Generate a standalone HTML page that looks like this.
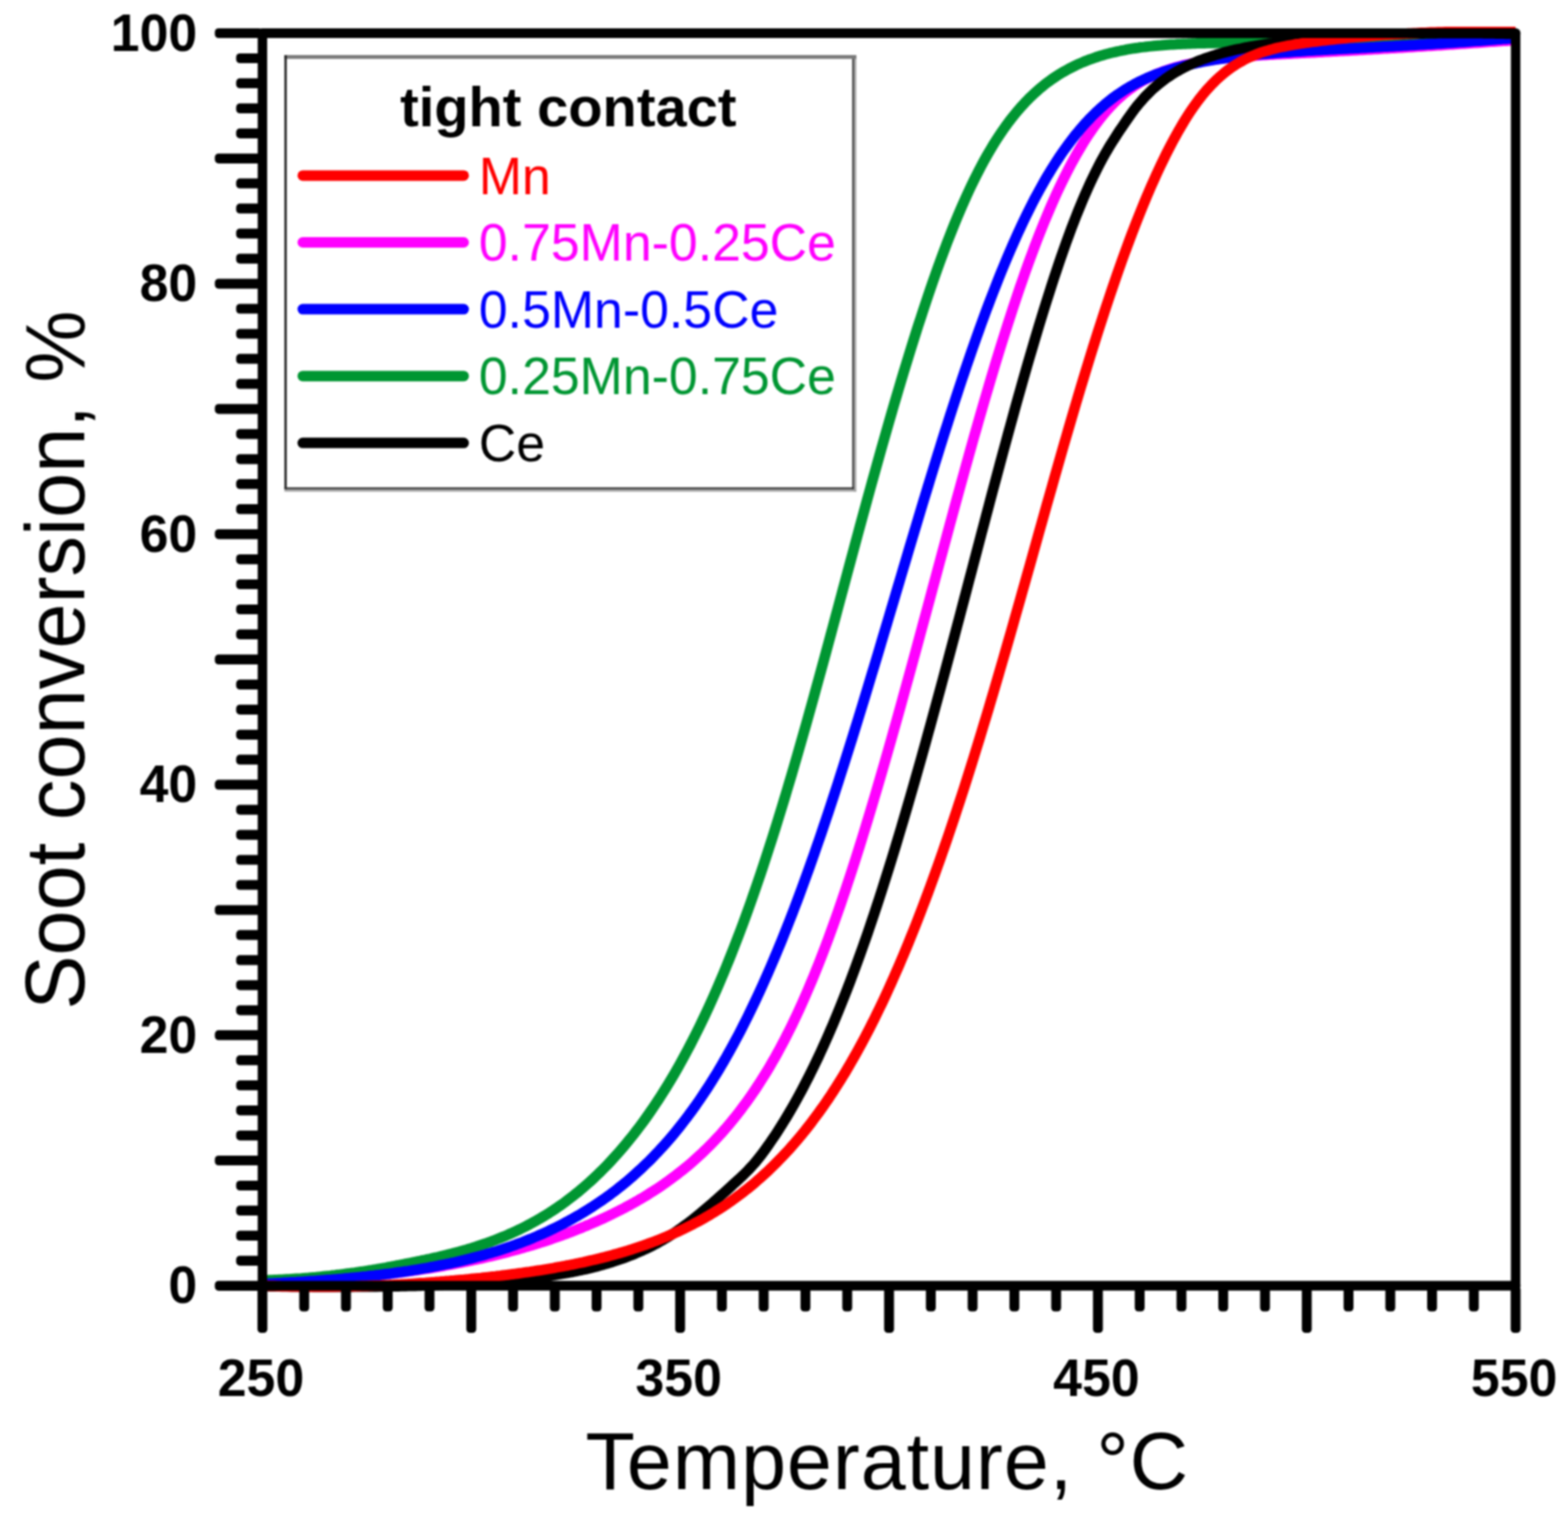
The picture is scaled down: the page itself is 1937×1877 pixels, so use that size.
<!DOCTYPE html>
<html lang="en"><head><meta charset="utf-8"><title>Soot conversion vs temperature</title>
<style>
html,body{margin:0;padding:0;background:#fff;}
body{width:1937px;height:1877px;overflow:hidden;}
svg{display:block;}
text{font-family:"Liberation Sans",Arial,Helvetica,sans-serif;}
.tl{font-weight:bold;font-size:65px;fill:#000;}
.lg{font-size:64px;}
.at{font-size:100px;fill:#000;}
</style></head><body>
<svg width="1937" height="1877" viewBox="0 0 1937 1877">
<rect x="0" y="0" width="1937" height="1877" fill="#ffffff"/>
<filter id="soft" x="0" y="0" width="1937" height="1877" filterUnits="userSpaceOnUse" color-interpolation-filters="sRGB"><feGaussianBlur stdDeviation="0.8"/></filter>
<g filter="url(#soft)">
<rect x="0" y="0" width="1937" height="1877" fill="#ffffff"/>

<clipPath id="pc"><rect x="324.2" y="33.0" width="1548.1" height="1563.8"/></clipPath>
<g clip-path="url(#pc)" fill="none" stroke-linejoin="round" stroke-linecap="butt">
<path d="M324.2,1587.3 L327.2,1587.2 L330.2,1587.0 L333.2,1586.8 L336.2,1586.7 L339.2,1586.5 L342.2,1586.3 L345.2,1586.1 L348.2,1585.9 L351.2,1585.7 L354.2,1585.6 L357.2,1585.4 L360.2,1585.2 L363.2,1585.0 L366.2,1584.8 L369.2,1584.6 L372.2,1584.4 L375.2,1584.1 L378.2,1583.9 L381.2,1583.7 L384.2,1583.5 L387.2,1583.3 L390.2,1583.0 L393.2,1582.8 L396.2,1582.6 L399.2,1582.3 L402.2,1582.1 L405.2,1581.8 L408.2,1581.6 L411.2,1581.3 L414.2,1581.1 L417.2,1580.8 L420.2,1580.5 L423.2,1580.3 L426.2,1580.0 L429.2,1579.7 L432.2,1579.4 L435.2,1579.1 L438.2,1578.8 L441.2,1578.5 L444.2,1578.2 L447.2,1577.9 L450.2,1577.6 L453.2,1577.3 L456.2,1577.0 L459.2,1576.6 L462.2,1576.3 L465.2,1576.0 L468.2,1575.6 L471.2,1575.3 L474.2,1574.9 L477.2,1574.5 L480.2,1574.2 L483.2,1573.8 L486.2,1573.4 L489.2,1573.0 L492.2,1572.6 L495.2,1572.2 L498.2,1571.8 L501.2,1571.4 L504.2,1571.0 L507.2,1570.6 L510.2,1570.2 L513.2,1569.7 L516.2,1569.3 L519.2,1568.8 L522.2,1568.4 L525.2,1567.9 L528.2,1567.5 L531.2,1567.0 L534.2,1566.5 L537.2,1566.0 L540.2,1565.5 L543.2,1565.0 L546.2,1564.5 L549.2,1564.0 L552.2,1563.4 L555.2,1562.9 L558.2,1562.3 L561.2,1561.8 L564.2,1561.2 L567.2,1560.6 L570.2,1560.1 L573.2,1559.5 L576.2,1558.9 L579.2,1558.2 L582.2,1557.6 L585.2,1557.0 L588.2,1556.4 L591.2,1555.7 L594.2,1555.1 L597.2,1554.4 L600.2,1553.7 L603.2,1553.0 L606.2,1552.3 L609.2,1551.6 L612.2,1550.9 L615.2,1550.2 L618.2,1549.4 L621.2,1548.7 L624.2,1547.9 L627.2,1547.1 L630.2,1546.3 L633.2,1545.5 L636.2,1544.7 L639.2,1543.9 L642.2,1543.0 L645.2,1542.2 L648.2,1541.3 L651.2,1540.5 L654.2,1539.6 L657.2,1538.7 L660.2,1537.8 L663.2,1536.8 L666.2,1535.9 L669.2,1534.9 L672.2,1534.0 L675.2,1533.0 L678.2,1532.0 L681.2,1531.0 L684.2,1529.9 L687.2,1528.9 L690.2,1527.8 L693.2,1526.8 L696.2,1525.7 L699.2,1524.6 L702.2,1523.4 L705.2,1522.3 L708.2,1521.2 L711.2,1520.0 L714.2,1518.8 L717.2,1517.6 L720.2,1516.4 L723.2,1515.1 L726.2,1513.9 L729.2,1512.6 L732.2,1511.3 L735.2,1510.0 L738.2,1508.7 L741.2,1507.3 L744.2,1506.0 L747.2,1504.6 L750.2,1503.2 L753.2,1501.7 L756.2,1500.3 L759.2,1498.8 L762.2,1497.3 L765.2,1495.8 L768.2,1494.2 L771.2,1492.7 L774.2,1491.1 L777.2,1489.5 L780.2,1487.8 L783.2,1486.2 L786.2,1484.5 L789.2,1482.7 L792.2,1481.0 L795.2,1479.2 L798.2,1477.4 L801.2,1475.5 L804.2,1473.6 L807.2,1471.7 L810.2,1469.8 L813.2,1467.8 L816.2,1465.8 L819.2,1463.7 L822.2,1461.6 L825.2,1459.5 L828.2,1457.3 L831.2,1455.1 L834.2,1452.8 L837.2,1450.5 L840.2,1448.2 L843.2,1445.8 L846.2,1443.4 L849.2,1440.9 L852.2,1438.4 L855.2,1435.8 L858.2,1433.1 L861.2,1430.4 L864.2,1427.7 L867.2,1424.9 L870.2,1422.0 L873.2,1419.1 L876.2,1416.1 L879.2,1413.1 L882.2,1410.0 L885.2,1406.8 L888.2,1403.6 L891.2,1400.3 L894.2,1396.9 L897.2,1393.5 L900.2,1390.0 L903.2,1386.4 L906.2,1382.7 L909.2,1379.0 L912.2,1375.1 L915.2,1371.2 L918.2,1367.2 L921.2,1363.2 L924.2,1359.0 L927.2,1354.8 L930.2,1350.4 L933.2,1346.0 L936.2,1341.4 L939.2,1336.8 L942.2,1332.1 L945.2,1327.3 L948.2,1322.3 L951.2,1317.3 L954.2,1312.1 L957.2,1306.9 L960.2,1301.5 L963.2,1296.0 L966.2,1290.4 L969.2,1284.7 L972.2,1278.8 L975.2,1272.9 L978.2,1266.8 L981.2,1260.5 L984.2,1254.2 L987.2,1247.7 L990.2,1241.1 L993.2,1234.4 L996.2,1227.5 L999.2,1220.5 L1002.2,1213.4 L1005.2,1206.2 L1008.2,1198.8 L1011.2,1191.3 L1014.2,1183.6 L1017.2,1175.9 L1020.2,1168.0 L1023.2,1160.0 L1026.2,1151.8 L1029.2,1143.5 L1032.2,1135.1 L1035.2,1126.6 L1038.2,1118.0 L1041.2,1109.2 L1044.2,1100.3 L1047.2,1091.3 L1050.2,1082.2 L1053.2,1073.0 L1056.2,1063.7 L1059.2,1054.3 L1062.2,1044.7 L1065.2,1035.1 L1068.2,1025.4 L1071.2,1015.5 L1074.2,1005.6 L1077.2,995.6 L1080.2,985.5 L1083.2,975.4 L1086.2,965.2 L1089.2,954.9 L1092.2,944.5 L1095.2,934.0 L1098.2,923.5 L1101.2,913.0 L1104.2,902.3 L1107.2,891.7 L1110.2,880.9 L1113.2,870.2 L1116.2,859.3 L1119.2,848.4 L1122.2,837.5 L1125.2,826.6 L1128.2,815.6 L1131.2,804.6 L1134.2,793.5 L1137.2,782.4 L1140.2,771.3 L1143.2,760.2 L1146.2,749.1 L1149.2,738.0 L1152.2,726.8 L1155.2,715.7 L1158.2,704.5 L1161.2,693.4 L1164.2,682.2 L1167.2,671.1 L1170.2,660.0 L1173.2,648.9 L1176.2,637.9 L1179.2,626.8 L1182.2,615.8 L1185.2,604.9 L1188.2,594.0 L1191.2,583.1 L1194.2,572.3 L1197.2,561.5 L1200.2,550.8 L1203.2,540.1 L1206.2,529.6 L1209.2,519.0 L1212.2,508.6 L1215.2,498.2 L1218.2,488.0 L1221.2,477.8 L1224.2,467.7 L1227.2,457.6 L1230.2,447.7 L1233.2,437.9 L1236.2,428.2 L1239.2,418.6 L1242.2,409.1 L1245.2,399.7 L1248.2,390.4 L1251.2,381.2 L1254.2,372.2 L1257.2,363.2 L1260.2,354.4 L1263.2,345.8 L1266.2,337.2 L1269.2,328.8 L1272.2,320.5 L1275.2,312.4 L1278.2,304.4 L1281.2,296.5 L1284.2,288.8 L1287.2,281.3 L1290.2,273.9 L1293.2,266.7 L1296.2,259.6 L1299.2,252.6 L1302.2,245.9 L1305.2,239.2 L1308.2,232.8 L1311.2,226.5 L1314.2,220.3 L1317.2,214.3 L1320.2,208.5 L1323.2,202.8 L1326.2,197.3 L1329.2,191.9 L1332.2,186.7 L1335.2,181.6 L1338.2,176.7 L1341.2,171.9 L1344.2,167.3 L1347.2,162.8 L1350.2,158.5 L1353.2,154.3 L1356.2,150.3 L1359.2,146.4 L1362.2,142.7 L1365.2,139.1 L1368.2,135.6 L1371.2,132.3 L1374.2,129.2 L1377.2,126.1 L1380.2,123.2 L1383.2,120.5 L1386.2,117.8 L1389.2,115.3 L1392.2,112.9 L1395.2,110.6 L1398.2,108.4 L1401.2,106.3 L1404.2,104.4 L1407.2,102.5 L1410.2,100.7 L1413.2,99.0 L1416.2,97.4 L1419.2,95.9 L1422.2,94.5 L1425.2,93.1 L1428.2,91.8 L1431.2,90.5 L1434.2,89.3 L1437.2,88.2 L1440.2,87.1 L1443.2,86.1 L1446.2,85.1 L1449.2,84.2 L1452.2,83.3 L1455.2,82.5 L1458.2,81.7 L1461.2,80.9 L1464.2,80.2 L1467.2,79.5 L1470.2,78.8 L1473.2,78.2 L1476.2,77.6 L1479.2,77.0 L1482.2,76.4 L1485.2,75.9 L1488.2,75.4 L1491.2,74.9 L1494.2,74.5 L1497.2,74.0 L1500.2,73.6 L1503.2,73.2 L1506.2,72.8 L1509.2,72.5 L1512.2,72.1 L1515.2,71.8 L1518.2,71.5 L1521.2,71.2 L1524.2,70.9 L1527.2,70.6 L1530.2,70.3 L1533.2,70.1 L1536.2,69.8 L1539.2,69.6 L1542.2,69.4 L1545.2,69.1 L1548.2,68.9 L1551.2,68.7 L1554.2,68.5 L1557.2,68.3 L1560.2,68.1 L1563.2,68.0 L1566.2,67.8 L1569.2,67.6 L1572.2,67.5 L1575.2,67.3 L1578.2,67.1 L1581.2,67.0 L1584.2,66.8 L1587.2,66.7 L1590.2,66.5 L1593.2,66.4 L1596.2,66.2 L1599.2,66.1 L1602.2,65.9 L1605.2,65.8 L1608.2,65.6 L1611.2,65.5 L1614.2,65.3 L1617.2,65.2 L1620.2,65.0 L1623.2,64.9 L1626.2,64.7 L1629.2,64.6 L1632.2,64.4 L1635.2,64.2 L1638.2,64.1 L1641.2,63.9 L1644.2,63.8 L1647.2,63.6 L1650.2,63.5 L1653.2,63.3 L1656.2,63.1 L1659.2,63.0 L1662.2,62.8 L1665.2,62.7 L1668.2,62.5 L1671.2,62.3 L1674.2,62.2 L1677.2,62.0 L1680.2,61.8 L1683.2,61.7 L1686.2,61.5 L1689.2,61.3 L1692.2,61.2 L1695.2,61.0 L1698.2,60.8 L1701.2,60.7 L1704.2,60.5 L1707.2,60.3 L1710.2,60.1 L1713.2,60.0 L1716.2,59.8 L1719.2,59.6 L1722.2,59.4 L1725.2,59.3 L1728.2,59.1 L1731.2,58.9 L1734.2,58.7 L1737.2,58.5 L1740.2,58.3 L1743.2,58.2 L1746.2,58.0 L1749.2,57.8 L1752.2,57.6 L1755.2,57.4 L1758.2,57.2 L1761.2,57.0 L1764.2,56.8 L1767.2,56.7 L1770.2,56.5 L1773.2,56.3 L1776.2,56.1 L1779.2,55.9 L1782.2,55.7 L1785.2,55.5 L1788.2,55.3 L1791.2,55.1 L1794.2,54.9 L1797.2,54.7 L1800.2,54.5 L1803.2,54.3 L1806.2,54.1 L1809.2,53.9 L1812.2,53.7 L1815.2,53.5 L1818.2,53.3 L1821.2,53.1 L1824.2,52.9 L1827.2,52.7 L1830.2,52.5 L1833.2,52.3 L1836.2,52.1 L1839.2,51.8 L1842.2,51.6 L1845.2,51.4 L1848.2,51.2 L1851.2,51.0 L1854.2,50.8 L1857.2,50.6 L1860.2,50.4 L1863.2,50.2 L1866.2,50.0 L1869.2,49.8 L1872.2,49.6" stroke="#ff00ff" stroke-width="13.0"/>
<path d="M324.2,1582.1 L327.2,1582.0 L330.2,1581.9 L333.2,1581.8 L336.2,1581.7 L339.2,1581.6 L342.2,1581.5 L345.2,1581.3 L348.2,1581.2 L351.2,1581.0 L354.2,1580.8 L357.2,1580.7 L360.2,1580.5 L363.2,1580.3 L366.2,1580.1 L369.2,1579.9 L372.2,1579.7 L375.2,1579.4 L378.2,1579.2 L381.2,1579.0 L384.2,1578.7 L387.2,1578.4 L390.2,1578.2 L393.2,1577.9 L396.2,1577.6 L399.2,1577.3 L402.2,1577.0 L405.2,1576.7 L408.2,1576.4 L411.2,1576.0 L414.2,1575.7 L417.2,1575.3 L420.2,1575.0 L423.2,1574.6 L426.2,1574.2 L429.2,1573.8 L432.2,1573.4 L435.2,1573.0 L438.2,1572.6 L441.2,1572.1 L444.2,1571.7 L447.2,1571.3 L450.2,1570.8 L453.2,1570.3 L456.2,1569.8 L459.2,1569.4 L462.2,1568.9 L465.2,1568.4 L468.2,1567.8 L471.2,1567.3 L474.2,1566.8 L477.2,1566.3 L480.2,1565.7 L483.2,1565.2 L486.2,1564.6 L489.2,1564.0 L492.2,1563.5 L495.2,1562.9 L498.2,1562.3 L501.2,1561.7 L504.2,1561.1 L507.2,1560.5 L510.2,1559.9 L513.2,1559.3 L516.2,1558.7 L519.2,1558.1 L522.2,1557.4 L525.2,1556.8 L528.2,1556.1 L531.2,1555.5 L534.2,1554.8 L537.2,1554.1 L540.2,1553.5 L543.2,1552.8 L546.2,1552.0 L549.2,1551.3 L552.2,1550.6 L555.2,1549.8 L558.2,1549.1 L561.2,1548.3 L564.2,1547.5 L567.2,1546.7 L570.2,1545.9 L573.2,1545.0 L576.2,1544.2 L579.2,1543.3 L582.2,1542.4 L585.2,1541.4 L588.2,1540.5 L591.2,1539.5 L594.2,1538.5 L597.2,1537.5 L600.2,1536.5 L603.2,1535.4 L606.2,1534.3 L609.2,1533.2 L612.2,1532.0 L615.2,1530.8 L618.2,1529.6 L621.2,1528.4 L624.2,1527.2 L627.2,1525.9 L630.2,1524.5 L633.2,1523.2 L636.2,1521.8 L639.2,1520.4 L642.2,1519.0 L645.2,1517.5 L648.2,1516.0 L651.2,1514.4 L654.2,1512.9 L657.2,1511.2 L660.2,1509.6 L663.2,1507.9 L666.2,1506.2 L669.2,1504.4 L672.2,1502.6 L675.2,1500.8 L678.2,1498.9 L681.2,1496.9 L684.2,1495.0 L687.2,1493.0 L690.2,1490.9 L693.2,1488.8 L696.2,1486.7 L699.2,1484.5 L702.2,1482.2 L705.2,1479.9 L708.2,1477.6 L711.2,1475.2 L714.2,1472.8 L717.2,1470.3 L720.2,1467.8 L723.2,1465.2 L726.2,1462.5 L729.2,1459.8 L732.2,1457.1 L735.2,1454.3 L738.2,1451.4 L741.2,1448.5 L744.2,1445.5 L747.2,1442.5 L750.2,1439.4 L753.2,1436.2 L756.2,1433.0 L759.2,1429.7 L762.2,1426.4 L765.2,1423.0 L768.2,1419.5 L771.2,1416.0 L774.2,1412.4 L777.2,1408.7 L780.2,1405.0 L783.2,1401.2 L786.2,1397.3 L789.2,1393.4 L792.2,1389.4 L795.2,1385.3 L798.2,1381.1 L801.2,1376.9 L804.2,1372.5 L807.2,1368.1 L810.2,1363.7 L813.2,1359.1 L816.2,1354.5 L819.2,1349.8 L822.2,1345.0 L825.2,1340.1 L828.2,1335.1 L831.2,1330.1 L834.2,1324.9 L837.2,1319.7 L840.2,1314.4 L843.2,1308.9 L846.2,1303.4 L849.2,1297.8 L852.2,1292.1 L855.2,1286.3 L858.2,1280.4 L861.2,1274.4 L864.2,1268.4 L867.2,1262.2 L870.2,1255.9 L873.2,1249.5 L876.2,1243.0 L879.2,1236.3 L882.2,1229.6 L885.2,1222.8 L888.2,1215.9 L891.2,1208.8 L894.2,1201.7 L897.2,1194.4 L900.2,1187.0 L903.2,1179.5 L906.2,1171.9 L909.2,1164.2 L912.2,1156.4 L915.2,1148.5 L918.2,1140.4 L921.2,1132.2 L924.2,1124.0 L927.2,1115.6 L930.2,1107.0 L933.2,1098.4 L936.2,1089.7 L939.2,1080.8 L942.2,1071.9 L945.2,1062.8 L948.2,1053.6 L951.2,1044.3 L954.2,1035.0 L957.2,1025.5 L960.2,1015.9 L963.2,1006.2 L966.2,996.4 L969.2,986.5 L972.2,976.5 L975.2,966.4 L978.2,956.3 L981.2,946.0 L984.2,935.7 L987.2,925.3 L990.2,914.8 L993.2,904.3 L996.2,893.7 L999.2,883.0 L1002.2,872.2 L1005.2,861.4 L1008.2,850.6 L1011.2,839.6 L1014.2,828.7 L1017.2,817.7 L1020.2,806.7 L1023.2,795.6 L1026.2,784.5 L1029.2,773.4 L1032.2,762.2 L1035.2,751.1 L1038.2,739.9 L1041.2,728.7 L1044.2,717.6 L1047.2,706.4 L1050.2,695.2 L1053.2,684.1 L1056.2,673.0 L1059.2,661.9 L1062.2,650.8 L1065.2,639.8 L1068.2,628.8 L1071.2,617.8 L1074.2,606.9 L1077.2,596.0 L1080.2,585.2 L1083.2,574.4 L1086.2,563.7 L1089.2,553.1 L1092.2,542.5 L1095.2,532.0 L1098.2,521.5 L1101.2,511.1 L1104.2,500.8 L1107.2,490.6 L1110.2,480.5 L1113.2,470.4 L1116.2,460.4 L1119.2,450.6 L1122.2,440.8 L1125.2,431.1 L1128.2,421.5 L1131.2,412.0 L1134.2,402.6 L1137.2,393.4 L1140.2,384.2 L1143.2,375.2 L1146.2,366.2 L1149.2,357.4 L1152.2,348.7 L1155.2,340.2 L1158.2,331.7 L1161.2,323.4 L1164.2,315.2 L1167.2,307.2 L1170.2,299.3 L1173.2,291.6 L1176.2,284.0 L1179.2,276.5 L1182.2,269.2 L1185.2,262.1 L1188.2,255.1 L1191.2,248.3 L1194.2,241.6 L1197.2,235.1 L1200.2,228.8 L1203.2,222.6 L1206.2,216.6 L1209.2,210.7 L1212.2,205.0 L1215.2,199.4 L1218.2,194.0 L1221.2,188.8 L1224.2,183.7 L1227.2,178.7 L1230.2,173.9 L1233.2,169.3 L1236.2,164.7 L1239.2,160.4 L1242.2,156.1 L1245.2,152.0 L1248.2,148.0 L1251.2,144.2 L1254.2,140.5 L1257.2,136.9 L1260.2,133.4 L1263.2,130.1 L1266.2,126.8 L1269.2,123.7 L1272.2,120.7 L1275.2,117.8 L1278.2,115.0 L1281.2,112.3 L1284.2,109.7 L1287.2,107.2 L1290.2,104.7 L1293.2,102.4 L1296.2,100.2 L1299.2,98.0 L1302.2,96.0 L1305.2,94.0 L1308.2,92.1 L1311.2,90.2 L1314.2,88.5 L1317.2,86.8 L1320.2,85.1 L1323.2,83.6 L1326.2,82.1 L1329.2,80.6 L1332.2,79.2 L1335.2,77.9 L1338.2,76.6 L1341.2,75.4 L1344.2,74.2 L1347.2,73.1 L1350.2,72.1 L1353.2,71.0 L1356.2,70.0 L1359.2,69.1 L1362.2,68.2 L1365.2,67.3 L1368.2,66.5 L1371.2,65.7 L1374.2,65.0 L1377.2,64.3 L1380.2,63.6 L1383.2,63.0 L1386.2,62.3 L1389.2,61.8 L1392.2,61.2 L1395.2,60.7 L1398.2,60.2 L1401.2,59.7 L1404.2,59.3 L1407.2,58.8 L1410.2,58.4 L1413.2,58.1 L1416.2,57.7 L1419.2,57.4 L1422.2,57.1 L1425.2,56.8 L1428.2,56.5 L1431.2,56.2 L1434.2,56.0 L1437.2,55.7 L1440.2,55.5 L1443.2,55.3 L1446.2,55.1 L1449.2,54.9 L1452.2,54.8 L1455.2,54.6 L1458.2,54.4 L1461.2,54.3 L1464.2,54.2 L1467.2,54.1 L1470.2,53.9 L1473.2,53.8 L1476.2,53.7 L1479.2,53.6 L1482.2,53.6 L1485.2,53.5 L1488.2,53.4 L1491.2,53.3 L1494.2,53.3 L1497.2,53.2 L1500.2,53.2 L1503.2,53.1 L1506.2,53.1 L1509.2,53.0 L1512.2,53.0 L1515.2,52.9 L1518.2,52.9 L1521.2,52.9 L1524.2,52.8 L1527.2,52.8 L1530.2,52.8 L1533.2,52.8 L1536.2,52.7 L1539.2,52.7 L1542.2,52.7 L1545.2,52.6 L1548.2,52.6 L1551.2,52.6 L1554.2,52.5 L1557.2,52.5 L1560.2,52.5 L1563.2,52.4 L1566.2,52.4 L1569.2,52.3 L1572.2,52.3 L1575.2,52.2 L1578.2,52.2 L1581.2,52.1 L1584.2,52.1 L1587.2,52.0 L1590.2,51.9 L1593.2,51.8 L1596.2,51.8 L1599.2,51.7 L1602.2,51.6 L1605.2,51.5 L1608.2,51.4 L1611.2,51.3 L1614.2,51.1 L1617.2,51.0 L1620.2,50.9 L1623.2,50.8 L1626.2,50.6 L1629.2,50.5 L1632.2,50.3 L1635.2,50.2 L1638.2,50.0 L1641.2,49.9 L1644.2,49.7 L1647.2,49.6 L1650.2,49.4 L1653.2,49.3 L1656.2,49.1 L1659.2,49.0 L1662.2,48.8 L1665.2,48.6 L1668.2,48.5 L1671.2,48.3 L1674.2,48.1 L1677.2,48.0 L1680.2,47.8 L1683.2,47.7 L1686.2,47.5 L1689.2,47.3 L1692.2,47.2 L1695.2,47.0 L1698.2,46.9 L1701.2,46.7 L1704.2,46.5 L1707.2,46.4 L1710.2,46.2 L1713.2,46.1 L1716.2,45.9 L1719.2,45.8 L1722.2,45.6 L1725.2,45.5 L1728.2,45.4 L1731.2,45.2 L1734.2,45.1 L1737.2,44.9 L1740.2,44.8 L1743.2,44.7 L1746.2,44.6 L1749.2,44.4 L1752.2,44.3 L1755.2,44.2 L1758.2,44.1 L1761.2,44.0 L1764.2,43.9 L1767.2,43.8 L1770.2,43.6 L1773.2,43.5 L1776.2,43.5 L1779.2,43.4 L1782.2,43.3 L1785.2,43.2 L1788.2,43.1 L1791.2,43.0 L1794.2,42.9 L1797.2,42.9 L1800.2,42.8 L1803.2,42.7 L1806.2,42.7 L1809.2,42.6 L1812.2,42.6 L1815.2,42.5 L1818.2,42.4 L1821.2,42.4 L1824.2,42.4 L1827.2,42.3 L1830.2,42.3 L1833.2,42.3 L1836.2,42.2 L1839.2,42.2 L1842.2,42.2 L1845.2,42.2 L1848.2,42.2 L1851.2,42.2 L1854.2,42.2 L1857.2,42.2 L1860.2,42.2 L1863.2,42.2 L1866.2,42.2 L1869.2,42.3 L1872.2,42.3" stroke="#009632" stroke-width="13.0"/>
<path d="M324.2,1586.4 L327.2,1586.3 L330.2,1586.2 L333.2,1586.0 L336.2,1585.9 L339.2,1585.7 L342.2,1585.6 L345.2,1585.4 L348.2,1585.3 L351.2,1585.1 L354.2,1585.0 L357.2,1584.8 L360.2,1584.6 L363.2,1584.4 L366.2,1584.3 L369.2,1584.1 L372.2,1583.9 L375.2,1583.7 L378.2,1583.5 L381.2,1583.3 L384.2,1583.1 L387.2,1582.9 L390.2,1582.7 L393.2,1582.5 L396.2,1582.3 L399.2,1582.1 L402.2,1581.8 L405.2,1581.6 L408.2,1581.4 L411.2,1581.1 L414.2,1580.9 L417.2,1580.6 L420.2,1580.4 L423.2,1580.1 L426.2,1579.8 L429.2,1579.6 L432.2,1579.3 L435.2,1579.0 L438.2,1578.7 L441.2,1578.4 L444.2,1578.1 L447.2,1577.8 L450.2,1577.5 L453.2,1577.2 L456.2,1576.8 L459.2,1576.5 L462.2,1576.2 L465.2,1575.8 L468.2,1575.5 L471.2,1575.1 L474.2,1574.7 L477.2,1574.3 L480.2,1574.0 L483.2,1573.6 L486.2,1573.2 L489.2,1572.7 L492.2,1572.3 L495.2,1571.9 L498.2,1571.5 L501.2,1571.0 L504.2,1570.6 L507.2,1570.1 L510.2,1569.6 L513.2,1569.1 L516.2,1568.7 L519.2,1568.2 L522.2,1567.6 L525.2,1567.1 L528.2,1566.6 L531.2,1566.0 L534.2,1565.5 L537.2,1564.9 L540.2,1564.3 L543.2,1563.7 L546.2,1563.1 L549.2,1562.5 L552.2,1561.9 L555.2,1561.3 L558.2,1560.6 L561.2,1560.0 L564.2,1559.3 L567.2,1558.6 L570.2,1557.9 L573.2,1557.2 L576.2,1556.4 L579.2,1555.7 L582.2,1554.9 L585.2,1554.1 L588.2,1553.3 L591.2,1552.5 L594.2,1551.7 L597.2,1550.9 L600.2,1550.0 L603.2,1549.1 L606.2,1548.2 L609.2,1547.3 L612.2,1546.4 L615.2,1545.5 L618.2,1544.5 L621.2,1543.5 L624.2,1542.5 L627.2,1541.5 L630.2,1540.5 L633.2,1539.4 L636.2,1538.3 L639.2,1537.2 L642.2,1536.1 L645.2,1535.0 L648.2,1533.8 L651.2,1532.6 L654.2,1531.4 L657.2,1530.2 L660.2,1528.9 L663.2,1527.6 L666.2,1526.3 L669.2,1525.0 L672.2,1523.7 L675.2,1522.3 L678.2,1520.9 L681.2,1519.4 L684.2,1518.0 L687.2,1516.5 L690.2,1515.0 L693.2,1513.5 L696.2,1511.9 L699.2,1510.3 L702.2,1508.7 L705.2,1507.1 L708.2,1505.4 L711.2,1503.7 L714.2,1502.0 L717.2,1500.2 L720.2,1498.4 L723.2,1496.6 L726.2,1494.7 L729.2,1492.8 L732.2,1490.9 L735.2,1488.9 L738.2,1486.9 L741.2,1484.9 L744.2,1482.8 L747.2,1480.7 L750.2,1478.6 L753.2,1476.4 L756.2,1474.1 L759.2,1471.9 L762.2,1469.6 L765.2,1467.2 L768.2,1464.8 L771.2,1462.4 L774.2,1459.9 L777.2,1457.3 L780.2,1454.8 L783.2,1452.1 L786.2,1449.4 L789.2,1446.7 L792.2,1443.9 L795.2,1441.1 L798.2,1438.2 L801.2,1435.3 L804.2,1432.3 L807.2,1429.2 L810.2,1426.1 L813.2,1423.0 L816.2,1419.7 L819.2,1416.5 L822.2,1413.1 L825.2,1409.7 L828.2,1406.2 L831.2,1402.7 L834.2,1399.1 L837.2,1395.4 L840.2,1391.6 L843.2,1387.8 L846.2,1383.9 L849.2,1380.0 L852.2,1375.9 L855.2,1371.8 L858.2,1367.7 L861.2,1363.4 L864.2,1359.1 L867.2,1354.7 L870.2,1350.2 L873.2,1345.6 L876.2,1341.0 L879.2,1336.3 L882.2,1331.4 L885.2,1326.6 L888.2,1321.6 L891.2,1316.5 L894.2,1311.4 L897.2,1306.1 L900.2,1300.8 L903.2,1295.4 L906.2,1289.9 L909.2,1284.3 L912.2,1278.7 L915.2,1272.9 L918.2,1267.0 L921.2,1261.1 L924.2,1255.1 L927.2,1248.9 L930.2,1242.7 L933.2,1236.4 L936.2,1230.0 L939.2,1223.5 L942.2,1216.9 L945.2,1210.2 L948.2,1203.4 L951.2,1196.5 L954.2,1189.5 L957.2,1182.4 L960.2,1175.3 L963.2,1168.0 L966.2,1160.7 L969.2,1153.2 L972.2,1145.7 L975.2,1138.0 L978.2,1130.3 L981.2,1122.5 L984.2,1114.6 L987.2,1106.6 L990.2,1098.5 L993.2,1090.3 L996.2,1082.1 L999.2,1073.7 L1002.2,1065.3 L1005.2,1056.8 L1008.2,1048.2 L1011.2,1039.5 L1014.2,1030.8 L1017.2,1021.9 L1020.2,1013.0 L1023.2,1004.1 L1026.2,995.0 L1029.2,985.9 L1032.2,976.7 L1035.2,967.4 L1038.2,958.1 L1041.2,948.8 L1044.2,939.3 L1047.2,929.8 L1050.2,920.3 L1053.2,910.7 L1056.2,901.0 L1059.2,891.3 L1062.2,881.6 L1065.2,871.8 L1068.2,862.0 L1071.2,852.1 L1074.2,842.2 L1077.2,832.2 L1080.2,822.3 L1083.2,812.3 L1086.2,802.3 L1089.2,792.2 L1092.2,782.2 L1095.2,772.1 L1098.2,762.0 L1101.2,751.9 L1104.2,741.8 L1107.2,731.7 L1110.2,721.6 L1113.2,711.5 L1116.2,701.4 L1119.2,691.3 L1122.2,681.2 L1125.2,671.2 L1128.2,661.1 L1131.2,651.1 L1134.2,641.1 L1137.2,631.2 L1140.2,621.2 L1143.2,611.3 L1146.2,601.5 L1149.2,591.7 L1152.2,581.9 L1155.2,572.2 L1158.2,562.5 L1161.2,552.9 L1164.2,543.3 L1167.2,533.8 L1170.2,524.4 L1173.2,515.0 L1176.2,505.7 L1179.2,496.5 L1182.2,487.4 L1185.2,478.3 L1188.2,469.3 L1191.2,460.4 L1194.2,451.5 L1197.2,442.8 L1200.2,434.1 L1203.2,425.6 L1206.2,417.1 L1209.2,408.7 L1212.2,400.4 L1215.2,392.2 L1218.2,384.1 L1221.2,376.1 L1224.2,368.2 L1227.2,360.5 L1230.2,352.8 L1233.2,345.2 L1236.2,337.7 L1239.2,330.4 L1242.2,323.1 L1245.2,316.0 L1248.2,309.0 L1251.2,302.1 L1254.2,295.4 L1257.2,288.7 L1260.2,282.2 L1263.2,275.8 L1266.2,269.5 L1269.2,263.3 L1272.2,257.3 L1275.2,251.4 L1278.2,245.6 L1281.2,240.0 L1284.2,234.5 L1287.2,229.1 L1290.2,223.8 L1293.2,218.6 L1296.2,213.6 L1299.2,208.7 L1302.2,203.9 L1305.2,199.2 L1308.2,194.6 L1311.2,190.2 L1314.2,185.9 L1317.2,181.7 L1320.2,177.6 L1323.2,173.6 L1326.2,169.7 L1329.2,165.9 L1332.2,162.3 L1335.2,158.7 L1338.2,155.3 L1341.2,151.9 L1344.2,148.7 L1347.2,145.5 L1350.2,142.5 L1353.2,139.5 L1356.2,136.7 L1359.2,133.9 L1362.2,131.3 L1365.2,128.7 L1368.2,126.2 L1371.2,123.8 L1374.2,121.5 L1377.2,119.3 L1380.2,117.1 L1383.2,115.1 L1386.2,113.1 L1389.2,111.1 L1392.2,109.3 L1395.2,107.5 L1398.2,105.8 L1401.2,104.1 L1404.2,102.6 L1407.2,101.0 L1410.2,99.6 L1413.2,98.2 L1416.2,96.8 L1419.2,95.5 L1422.2,94.3 L1425.2,93.1 L1428.2,91.9 L1431.2,90.8 L1434.2,89.8 L1437.2,88.7 L1440.2,87.7 L1443.2,86.8 L1446.2,85.9 L1449.2,85.0 L1452.2,84.1 L1455.2,83.3 L1458.2,82.5 L1461.2,81.7 L1464.2,81.0 L1467.2,80.3 L1470.2,79.6 L1473.2,78.9 L1476.2,78.3 L1479.2,77.7 L1482.2,77.1 L1485.2,76.5 L1488.2,75.9 L1491.2,75.4 L1494.2,74.9 L1497.2,74.4 L1500.2,73.9 L1503.2,73.4 L1506.2,72.9 L1509.2,72.5 L1512.2,72.1 L1515.2,71.6 L1518.2,71.2 L1521.2,70.9 L1524.2,70.5 L1527.2,70.1 L1530.2,69.8 L1533.2,69.4 L1536.2,69.1 L1539.2,68.8 L1542.2,68.4 L1545.2,68.1 L1548.2,67.8 L1551.2,67.5 L1554.2,67.3 L1557.2,67.0 L1560.2,66.7 L1563.2,66.5 L1566.2,66.2 L1569.2,66.0 L1572.2,65.7 L1575.2,65.5 L1578.2,65.3 L1581.2,65.0 L1584.2,64.8 L1587.2,64.6 L1590.2,64.4 L1593.2,64.2 L1596.2,64.0 L1599.2,63.8 L1602.2,63.6 L1605.2,63.4 L1608.2,63.2 L1611.2,63.0 L1614.2,62.8 L1617.2,62.6 L1620.2,62.5 L1623.2,62.3 L1626.2,62.1 L1629.2,61.9 L1632.2,61.8 L1635.2,61.6 L1638.2,61.4 L1641.2,61.3 L1644.2,61.1 L1647.2,60.9 L1650.2,60.8 L1653.2,60.6 L1656.2,60.5 L1659.2,60.3 L1662.2,60.2 L1665.2,60.0 L1668.2,59.8 L1671.2,59.7 L1674.2,59.5 L1677.2,59.4 L1680.2,59.2 L1683.2,59.1 L1686.2,58.9 L1689.2,58.7 L1692.2,58.6 L1695.2,58.4 L1698.2,58.3 L1701.2,58.1 L1704.2,58.0 L1707.2,57.8 L1710.2,57.6 L1713.2,57.5 L1716.2,57.3 L1719.2,57.2 L1722.2,57.0 L1725.2,56.8 L1728.2,56.7 L1731.2,56.5 L1734.2,56.3 L1737.2,56.2 L1740.2,56.0 L1743.2,55.8 L1746.2,55.7 L1749.2,55.5 L1752.2,55.3 L1755.2,55.1 L1758.2,55.0 L1761.2,54.8 L1764.2,54.6 L1767.2,54.4 L1770.2,54.2 L1773.2,54.0 L1776.2,53.8 L1779.2,53.7 L1782.2,53.5 L1785.2,53.3 L1788.2,53.1 L1791.2,52.9 L1794.2,52.7 L1797.2,52.5 L1800.2,52.3 L1803.2,52.1 L1806.2,51.9 L1809.2,51.7 L1812.2,51.5 L1815.2,51.2 L1818.2,51.0 L1821.2,50.8 L1824.2,50.6 L1827.2,50.4 L1830.2,50.2 L1833.2,49.9 L1836.2,49.7 L1839.2,49.5 L1842.2,49.3 L1845.2,49.1 L1848.2,48.8 L1851.2,48.6 L1854.2,48.4 L1857.2,48.1 L1860.2,47.9 L1863.2,47.7 L1866.2,47.4 L1869.2,47.2 L1872.2,47.0" stroke="#0000ff" stroke-width="13.0"/>
<path d="M324.2,1589.1 L327.2,1589.2 L330.2,1589.3 L333.2,1589.4 L336.2,1589.4 L339.2,1589.5 L342.2,1589.6 L345.2,1589.6 L348.2,1589.7 L351.2,1589.7 L354.2,1589.8 L357.2,1589.8 L360.2,1589.9 L363.2,1589.9 L366.2,1590.0 L369.2,1590.0 L372.2,1590.0 L375.2,1590.1 L378.2,1590.1 L381.2,1590.1 L384.2,1590.1 L387.2,1590.2 L390.2,1590.2 L393.2,1590.2 L396.2,1590.2 L399.2,1590.2 L402.2,1590.2 L405.2,1590.2 L408.2,1590.2 L411.2,1590.2 L414.2,1590.2 L417.2,1590.2 L420.2,1590.2 L423.2,1590.2 L426.2,1590.2 L429.2,1590.2 L432.2,1590.2 L435.2,1590.2 L438.2,1590.1 L441.2,1590.1 L444.2,1590.1 L447.2,1590.1 L450.2,1590.0 L453.2,1590.0 L456.2,1590.0 L459.2,1589.9 L462.2,1589.9 L465.2,1589.9 L468.2,1589.8 L471.2,1589.8 L474.2,1589.7 L477.2,1589.7 L480.2,1589.6 L483.2,1589.6 L486.2,1589.5 L489.2,1589.4 L492.2,1589.4 L495.2,1589.3 L498.2,1589.2 L501.2,1589.2 L504.2,1589.1 L507.2,1589.0 L510.2,1588.9 L513.2,1588.9 L516.2,1588.8 L519.2,1588.7 L522.2,1588.6 L525.2,1588.5 L528.2,1588.4 L531.2,1588.3 L534.2,1588.2 L537.2,1588.1 L540.2,1587.9 L543.2,1587.8 L546.2,1587.7 L549.2,1587.6 L552.2,1587.5 L555.2,1587.3 L558.2,1587.2 L561.2,1587.0 L564.2,1586.9 L567.2,1586.7 L570.2,1586.6 L573.2,1586.4 L576.2,1586.3 L579.2,1586.1 L582.2,1585.9 L585.2,1585.7 L588.2,1585.6 L591.2,1585.4 L594.2,1585.2 L597.2,1585.0 L600.2,1584.8 L603.2,1584.5 L606.2,1584.3 L609.2,1584.1 L612.2,1583.9 L615.2,1583.6 L618.2,1583.4 L621.2,1583.1 L624.2,1582.9 L627.2,1582.6 L630.2,1582.3 L633.2,1582.0 L636.2,1581.7 L639.2,1581.4 L642.2,1581.1 L645.2,1580.8 L648.2,1580.5 L651.2,1580.1 L654.2,1579.8 L657.2,1579.4 L660.2,1579.1 L663.2,1578.7 L666.2,1578.3 L669.2,1577.9 L672.2,1577.5 L675.2,1577.0 L678.2,1576.6 L681.2,1576.2 L684.2,1575.7 L687.2,1575.2 L690.2,1574.7 L693.2,1574.2 L696.2,1573.7 L699.2,1573.2 L702.2,1572.6 L705.2,1572.0 L708.2,1571.5 L711.2,1570.9 L714.2,1570.2 L717.2,1569.6 L720.2,1568.9 L723.2,1568.3 L726.2,1567.6 L729.2,1566.9 L732.2,1566.1 L735.2,1565.4 L738.2,1564.6 L741.2,1563.8 L744.2,1563.0 L747.2,1562.1 L750.2,1561.2 L753.2,1560.3 L756.2,1559.4 L759.2,1558.4 L762.2,1557.4 L765.2,1556.4 L768.2,1555.4 L771.2,1554.3 L774.2,1553.2 L777.2,1552.0 L780.2,1550.9 L783.2,1549.7 L786.2,1548.4 L789.2,1547.1 L792.2,1545.8 L795.2,1544.4 L798.2,1543.0 L801.2,1541.6 L804.2,1540.1 L807.2,1538.6 L810.2,1537.0 L813.2,1535.4 L816.2,1533.7 L819.2,1532.0 L822.2,1530.2 L825.2,1528.4 L828.2,1526.5 L831.2,1524.6 L834.2,1522.6 L837.2,1520.5 L840.2,1518.5 L843.2,1516.3 L846.2,1514.1 L849.2,1511.9 L852.2,1509.6 L855.2,1507.3 L858.2,1505.0 L861.2,1502.5 L864.2,1500.1 L867.2,1497.6 L870.2,1495.1 L873.2,1492.5 L876.2,1489.9 L879.2,1487.3 L882.2,1484.7 L885.2,1482.0 L888.2,1479.3 L891.2,1476.7 L894.2,1474.0 L897.2,1471.3 L900.2,1468.6 L903.2,1465.9 L906.2,1463.1 L909.2,1460.4 L912.2,1457.7 L915.2,1454.8 L918.2,1452.0 L921.2,1449.0 L924.2,1446.0 L927.2,1442.8 L930.2,1439.5 L933.2,1436.1 L936.2,1432.4 L939.2,1428.6 L942.2,1424.7 L945.2,1420.6 L948.2,1416.4 L951.2,1412.1 L954.2,1407.7 L957.2,1403.3 L960.2,1398.7 L963.2,1394.0 L966.2,1389.3 L969.2,1384.4 L972.2,1379.5 L975.2,1374.4 L978.2,1369.2 L981.2,1364.0 L984.2,1358.6 L987.2,1353.2 L990.2,1347.6 L993.2,1341.9 L996.2,1336.1 L999.2,1330.2 L1002.2,1324.2 L1005.2,1318.1 L1008.2,1311.9 L1011.2,1305.6 L1014.2,1299.1 L1017.2,1292.5 L1020.2,1285.9 L1023.2,1279.1 L1026.2,1272.2 L1029.2,1265.2 L1032.2,1258.0 L1035.2,1250.8 L1038.2,1243.4 L1041.2,1235.9 L1044.2,1228.3 L1047.2,1220.6 L1050.2,1212.8 L1053.2,1204.8 L1056.2,1196.8 L1059.2,1188.6 L1062.2,1180.3 L1065.2,1171.9 L1068.2,1163.4 L1071.2,1154.8 L1074.2,1146.0 L1077.2,1137.2 L1080.2,1128.2 L1083.2,1119.1 L1086.2,1110.0 L1089.2,1100.7 L1092.2,1091.3 L1095.2,1081.8 L1098.2,1072.3 L1101.2,1062.6 L1104.2,1052.8 L1107.2,1043.0 L1110.2,1033.0 L1113.2,1023.0 L1116.2,1012.8 L1119.2,1002.6 L1122.2,992.4 L1125.2,982.0 L1128.2,971.6 L1131.2,961.1 L1134.2,950.5 L1137.2,939.9 L1140.2,929.2 L1143.2,918.4 L1146.2,907.6 L1149.2,896.7 L1152.2,885.8 L1155.2,874.8 L1158.2,863.8 L1161.2,852.7 L1164.2,841.6 L1167.2,830.5 L1170.2,819.3 L1173.2,808.0 L1176.2,796.8 L1179.2,785.5 L1182.2,774.1 L1185.2,762.8 L1188.2,751.4 L1191.2,740.0 L1194.2,728.6 L1197.2,717.2 L1200.2,705.8 L1203.2,694.4 L1206.2,683.0 L1209.2,671.6 L1212.2,660.2 L1215.2,648.8 L1218.2,637.4 L1221.2,626.1 L1224.2,614.7 L1227.2,603.4 L1230.2,592.2 L1233.2,581.0 L1236.2,569.8 L1239.2,558.6 L1242.2,547.6 L1245.2,536.5 L1248.2,525.6 L1251.2,514.7 L1254.2,503.8 L1257.2,493.1 L1260.2,482.4 L1263.2,471.8 L1266.2,461.3 L1269.2,450.8 L1272.2,440.5 L1275.2,430.3 L1278.2,420.1 L1281.2,410.1 L1284.2,400.2 L1287.2,390.4 L1290.2,380.7 L1293.2,371.1 L1296.2,361.7 L1299.2,352.3 L1302.2,343.1 L1305.2,334.1 L1308.2,325.2 L1311.2,316.4 L1314.2,307.8 L1317.2,299.4 L1320.2,291.2 L1323.2,283.1 L1326.2,275.2 L1329.2,267.5 L1332.2,260.0 L1335.2,252.7 L1338.2,245.5 L1341.2,238.6 L1344.2,231.9 L1347.2,225.3 L1350.2,219.0 L1353.2,212.8 L1356.2,206.9 L1359.2,201.1 L1362.2,195.5 L1365.2,190.1 L1368.2,184.9 L1371.2,179.9 L1374.2,175.1 L1377.2,170.4 L1380.2,165.7 L1383.2,161.2 L1386.2,156.8 L1389.2,152.4 L1392.2,148.0 L1395.2,143.7 L1398.2,139.5 L1401.2,135.4 L1404.2,131.5 L1407.2,127.9 L1410.2,124.4 L1413.2,121.0 L1416.2,117.8 L1419.2,114.8 L1422.2,111.9 L1425.2,109.1 L1428.2,106.5 L1431.2,104.0 L1434.2,101.6 L1437.2,99.3 L1440.2,97.1 L1443.2,95.0 L1446.2,93.0 L1449.2,91.1 L1452.2,89.2 L1455.2,87.5 L1458.2,85.8 L1461.2,84.2 L1464.2,82.7 L1467.2,81.2 L1470.2,79.8 L1473.2,78.4 L1476.2,77.1 L1479.2,75.8 L1482.2,74.6 L1485.2,73.5 L1488.2,72.4 L1491.2,71.3 L1494.2,70.3 L1497.2,69.3 L1500.2,68.4 L1503.2,67.4 L1506.2,66.6 L1509.2,65.7 L1512.2,64.9 L1515.2,64.1 L1518.2,63.4 L1521.2,62.6 L1524.2,61.9 L1527.2,61.2 L1530.2,60.6 L1533.2,60.0 L1536.2,59.3 L1539.2,58.7 L1542.2,58.2 L1545.2,57.6 L1548.2,57.1 L1551.2,56.6 L1554.2,56.1 L1557.2,55.6 L1560.2,55.1 L1563.2,54.6 L1566.2,54.2 L1569.2,53.8 L1572.2,53.4 L1575.2,52.9 L1578.2,52.6 L1581.2,52.2 L1584.2,51.8 L1587.2,51.4 L1590.2,51.1 L1593.2,50.7 L1596.2,50.4 L1599.2,50.1 L1602.2,49.8 L1605.2,49.5 L1608.2,49.2 L1611.2,48.9 L1614.2,48.6 L1617.2,48.3 L1620.2,48.0 L1623.2,47.8 L1626.2,47.5 L1629.2,47.3 L1632.2,47.0 L1635.2,46.8 L1638.2,46.5 L1641.2,46.3 L1644.2,46.1 L1647.2,45.9 L1650.2,45.7 L1653.2,45.5 L1656.2,45.3 L1659.2,45.1 L1662.2,44.9 L1665.2,44.7 L1668.2,44.6 L1671.2,44.4 L1674.2,44.2 L1677.2,44.1 L1680.2,43.9 L1683.2,43.8 L1686.2,43.6 L1689.2,43.5 L1692.2,43.3 L1695.2,43.2 L1698.2,43.1 L1701.2,43.0 L1704.2,42.9 L1707.2,42.7 L1710.2,42.6 L1713.2,42.5 L1716.2,42.4 L1719.2,42.3 L1722.2,42.2 L1725.2,42.1 L1728.2,42.0 L1731.2,42.0 L1734.2,41.9 L1737.2,41.8 L1740.2,41.7 L1743.2,41.7 L1746.2,41.6 L1749.2,41.5 L1752.2,41.5 L1755.2,41.4 L1758.2,41.4 L1761.2,41.3 L1764.2,41.3 L1767.2,41.2 L1770.2,41.2 L1773.2,41.2 L1776.2,41.1 L1779.2,41.1 L1782.2,41.1 L1785.2,41.1 L1788.2,41.0 L1791.2,41.0 L1794.2,41.0 L1797.2,41.0 L1800.2,41.0 L1803.2,41.0 L1806.2,41.0 L1809.2,41.0 L1812.2,41.0 L1815.2,41.0 L1818.2,41.0 L1821.2,41.1 L1824.2,41.1 L1827.2,41.1 L1830.2,41.1 L1833.2,41.2 L1836.2,41.2 L1839.2,41.2 L1842.2,41.3 L1845.2,41.3 L1848.2,41.4 L1851.2,41.5 L1854.2,41.5 L1857.2,41.6 L1860.2,41.7 L1863.2,41.7 L1866.2,41.8 L1869.2,41.9 L1872.2,42.0" stroke="#000000" stroke-width="13.0"/>
<path d="M324.2,1588.4 L327.2,1588.6 L330.2,1588.7 L333.2,1588.9 L336.2,1589.0 L339.2,1589.1 L342.2,1589.2 L345.2,1589.3 L348.2,1589.4 L351.2,1589.5 L354.2,1589.6 L357.2,1589.7 L360.2,1589.7 L363.2,1589.8 L366.2,1589.8 L369.2,1589.9 L372.2,1589.9 L375.2,1590.0 L378.2,1590.0 L381.2,1590.0 L384.2,1590.0 L387.2,1590.0 L390.2,1590.0 L393.2,1590.0 L396.2,1590.0 L399.2,1590.0 L402.2,1590.0 L405.2,1590.0 L408.2,1589.9 L411.2,1589.9 L414.2,1589.9 L417.2,1589.8 L420.2,1589.8 L423.2,1589.7 L426.2,1589.7 L429.2,1589.6 L432.2,1589.5 L435.2,1589.5 L438.2,1589.4 L441.2,1589.3 L444.2,1589.2 L447.2,1589.1 L450.2,1589.0 L453.2,1589.0 L456.2,1588.8 L459.2,1588.7 L462.2,1588.6 L465.2,1588.5 L468.2,1588.4 L471.2,1588.3 L474.2,1588.1 L477.2,1588.0 L480.2,1587.9 L483.2,1587.7 L486.2,1587.6 L489.2,1587.4 L492.2,1587.2 L495.2,1587.1 L498.2,1586.9 L501.2,1586.7 L504.2,1586.6 L507.2,1586.4 L510.2,1586.2 L513.2,1586.0 L516.2,1585.8 L519.2,1585.6 L522.2,1585.4 L525.2,1585.2 L528.2,1584.9 L531.2,1584.7 L534.2,1584.5 L537.2,1584.3 L540.2,1584.0 L543.2,1583.8 L546.2,1583.5 L549.2,1583.3 L552.2,1583.0 L555.2,1582.8 L558.2,1582.5 L561.2,1582.3 L564.2,1582.0 L567.2,1581.7 L570.2,1581.4 L573.2,1581.2 L576.2,1580.9 L579.2,1580.6 L582.2,1580.3 L585.2,1580.0 L588.2,1579.7 L591.2,1579.4 L594.2,1579.1 L597.2,1578.7 L600.2,1578.4 L603.2,1578.1 L606.2,1577.8 L609.2,1577.4 L612.2,1577.1 L615.2,1576.7 L618.2,1576.4 L621.2,1576.0 L624.2,1575.6 L627.2,1575.3 L630.2,1574.9 L633.2,1574.5 L636.2,1574.1 L639.2,1573.7 L642.2,1573.3 L645.2,1572.9 L648.2,1572.4 L651.2,1572.0 L654.2,1571.6 L657.2,1571.1 L660.2,1570.7 L663.2,1570.2 L666.2,1569.8 L669.2,1569.3 L672.2,1568.8 L675.2,1568.3 L678.2,1567.8 L681.2,1567.3 L684.2,1566.8 L687.2,1566.2 L690.2,1565.7 L693.2,1565.2 L696.2,1564.6 L699.2,1564.0 L702.2,1563.5 L705.2,1562.9 L708.2,1562.3 L711.2,1561.7 L714.2,1561.0 L717.2,1560.4 L720.2,1559.8 L723.2,1559.1 L726.2,1558.4 L729.2,1557.7 L732.2,1557.0 L735.2,1556.3 L738.2,1555.6 L741.2,1554.9 L744.2,1554.1 L747.2,1553.4 L750.2,1552.6 L753.2,1551.8 L756.2,1551.0 L759.2,1550.1 L762.2,1549.3 L765.2,1548.4 L768.2,1547.6 L771.2,1546.7 L774.2,1545.8 L777.2,1544.8 L780.2,1543.9 L783.2,1542.9 L786.2,1541.9 L789.2,1540.9 L792.2,1539.9 L795.2,1538.9 L798.2,1537.8 L801.2,1536.7 L804.2,1535.6 L807.2,1534.5 L810.2,1533.4 L813.2,1532.2 L816.2,1531.0 L819.2,1529.8 L822.2,1528.6 L825.2,1527.3 L828.2,1526.0 L831.2,1524.7 L834.2,1523.3 L837.2,1522.0 L840.2,1520.6 L843.2,1519.2 L846.2,1517.7 L849.2,1516.2 L852.2,1514.7 L855.2,1513.2 L858.2,1511.6 L861.2,1510.0 L864.2,1508.4 L867.2,1506.8 L870.2,1505.1 L873.2,1503.3 L876.2,1501.6 L879.2,1499.8 L882.2,1498.0 L885.2,1496.1 L888.2,1494.2 L891.2,1492.3 L894.2,1490.3 L897.2,1488.3 L900.2,1486.2 L903.2,1484.1 L906.2,1482.0 L909.2,1479.8 L912.2,1477.6 L915.2,1475.3 L918.2,1473.0 L921.2,1470.7 L924.2,1468.3 L927.2,1465.9 L930.2,1463.4 L933.2,1460.8 L936.2,1458.2 L939.2,1455.6 L942.2,1452.9 L945.2,1450.2 L948.2,1447.4 L951.2,1444.6 L954.2,1441.7 L957.2,1438.7 L960.2,1435.7 L963.2,1432.6 L966.2,1429.5 L969.2,1426.3 L972.2,1423.1 L975.2,1419.8 L978.2,1416.4 L981.2,1413.0 L984.2,1409.5 L987.2,1406.0 L990.2,1402.3 L993.2,1398.7 L996.2,1394.9 L999.2,1391.1 L1002.2,1387.2 L1005.2,1383.2 L1008.2,1379.2 L1011.2,1375.1 L1014.2,1370.9 L1017.2,1366.7 L1020.2,1362.4 L1023.2,1358.0 L1026.2,1353.5 L1029.2,1348.9 L1032.2,1344.3 L1035.2,1339.6 L1038.2,1334.8 L1041.2,1329.9 L1044.2,1325.0 L1047.2,1319.9 L1050.2,1314.8 L1053.2,1309.6 L1056.2,1304.3 L1059.2,1298.9 L1062.2,1293.4 L1065.2,1287.9 L1068.2,1282.3 L1071.2,1276.5 L1074.2,1270.7 L1077.2,1264.8 L1080.2,1258.8 L1083.2,1252.7 L1086.2,1246.5 L1089.2,1240.3 L1092.2,1233.9 L1095.2,1227.5 L1098.2,1220.9 L1101.2,1214.3 L1104.2,1207.5 L1107.2,1200.7 L1110.2,1193.8 L1113.2,1186.8 L1116.2,1179.7 L1119.2,1172.5 L1122.2,1165.2 L1125.2,1157.8 L1128.2,1150.3 L1131.2,1142.8 L1134.2,1135.1 L1137.2,1127.4 L1140.2,1119.5 L1143.2,1111.6 L1146.2,1103.6 L1149.2,1095.5 L1152.2,1087.3 L1155.2,1079.0 L1158.2,1070.6 L1161.2,1062.2 L1164.2,1053.6 L1167.2,1045.0 L1170.2,1036.3 L1173.2,1027.5 L1176.2,1018.6 L1179.2,1009.6 L1182.2,1000.5 L1185.2,991.4 L1188.2,982.2 L1191.2,972.9 L1194.2,963.5 L1197.2,954.0 L1200.2,944.5 L1203.2,934.9 L1206.2,925.2 L1209.2,915.5 L1212.2,905.6 L1215.2,895.7 L1218.2,885.8 L1221.2,875.8 L1224.2,865.7 L1227.2,855.6 L1230.2,845.4 L1233.2,835.1 L1236.2,824.8 L1239.2,814.5 L1242.2,804.1 L1245.2,793.6 L1248.2,783.2 L1251.2,772.7 L1254.2,762.1 L1257.2,751.5 L1260.2,740.9 L1263.2,730.3 L1266.2,719.7 L1269.2,709.0 L1272.2,698.4 L1275.2,687.7 L1278.2,677.0 L1281.2,666.3 L1284.2,655.6 L1287.2,644.9 L1290.2,634.3 L1293.2,623.6 L1296.2,613.0 L1299.2,602.4 L1302.2,591.8 L1305.2,581.3 L1308.2,570.8 L1311.2,560.3 L1314.2,549.8 L1317.2,539.5 L1320.2,529.1 L1323.2,518.9 L1326.2,508.7 L1329.2,498.5 L1332.2,488.4 L1335.2,478.4 L1338.2,468.5 L1341.2,458.6 L1344.2,448.8 L1347.2,439.1 L1350.2,429.5 L1353.2,420.0 L1356.2,410.5 L1359.2,401.2 L1362.2,391.9 L1365.2,382.7 L1368.2,373.7 L1371.2,364.7 L1374.2,355.8 L1377.2,347.1 L1380.2,338.4 L1383.2,329.9 L1386.2,321.4 L1389.2,313.1 L1392.2,304.9 L1395.2,296.9 L1398.2,288.9 L1401.2,281.1 L1404.2,273.4 L1407.2,265.8 L1410.2,258.3 L1413.2,251.0 L1416.2,243.8 L1419.2,236.8 L1422.2,229.8 L1425.2,223.1 L1428.2,216.4 L1431.2,209.9 L1434.2,203.5 L1437.2,197.3 L1440.2,191.2 L1443.2,185.3 L1446.2,179.5 L1449.2,173.8 L1452.2,168.3 L1455.2,162.9 L1458.2,157.7 L1461.2,152.6 L1464.2,147.7 L1467.2,142.9 L1470.2,138.3 L1473.2,133.9 L1476.2,129.6 L1479.2,125.5 L1482.2,121.5 L1485.2,117.7 L1488.2,114.1 L1491.2,110.6 L1494.2,107.3 L1497.2,104.1 L1500.2,101.1 L1503.2,98.2 L1506.2,95.4 L1509.2,92.8 L1512.2,90.3 L1515.2,87.9 L1518.2,85.6 L1521.2,83.5 L1524.2,81.4 L1527.2,79.5 L1530.2,77.7 L1533.2,76.0 L1536.2,74.3 L1539.2,72.8 L1542.2,71.3 L1545.2,70.0 L1548.2,68.7 L1551.2,67.5 L1554.2,66.3 L1557.2,65.2 L1560.2,64.2 L1563.2,63.3 L1566.2,62.4 L1569.2,61.5 L1572.2,60.7 L1575.2,59.9 L1578.2,59.2 L1581.2,58.5 L1584.2,57.9 L1587.2,57.3 L1590.2,56.7 L1593.2,56.1 L1596.2,55.6 L1599.2,55.0 L1602.2,54.5 L1605.2,54.1 L1608.2,53.6 L1611.2,53.2 L1614.2,52.7 L1617.2,52.3 L1620.2,51.9 L1623.2,51.5 L1626.2,51.2 L1629.2,50.8 L1632.2,50.4 L1635.2,50.1 L1638.2,49.7 L1641.2,49.4 L1644.2,49.1 L1647.2,48.8 L1650.2,48.4 L1653.2,48.1 L1656.2,47.8 L1659.2,47.5 L1662.2,47.2 L1665.2,46.9 L1668.2,46.6 L1671.2,46.3 L1674.2,46.1 L1677.2,45.8 L1680.2,45.5 L1683.2,45.2 L1686.2,45.0 L1689.2,44.7 L1692.2,44.5 L1695.2,44.3 L1698.2,44.0 L1701.2,43.8 L1704.2,43.6 L1707.2,43.3 L1710.2,43.1 L1713.2,42.9 L1716.2,42.7 L1719.2,42.5 L1722.2,42.3 L1725.2,42.2 L1728.2,42.0 L1731.2,41.8 L1734.2,41.6 L1737.2,41.5 L1740.2,41.3 L1743.2,41.2 L1746.2,41.0 L1749.2,40.9 L1752.2,40.7 L1755.2,40.6 L1758.2,40.5 L1761.2,40.4 L1764.2,40.2 L1767.2,40.1 L1770.2,40.0 L1773.2,39.9 L1776.2,39.8 L1779.2,39.7 L1782.2,39.7 L1785.2,39.6 L1788.2,39.5 L1791.2,39.4 L1794.2,39.4 L1797.2,39.3 L1800.2,39.2 L1803.2,39.2 L1806.2,39.1 L1809.2,39.1 L1812.2,39.1 L1815.2,39.0 L1818.2,39.0 L1821.2,39.0 L1824.2,39.0 L1827.2,38.9 L1830.2,38.9 L1833.2,38.9 L1836.2,38.9 L1839.2,38.9 L1842.2,38.9 L1845.2,39.0 L1848.2,39.0 L1851.2,39.0 L1854.2,39.1 L1857.2,39.1 L1860.2,39.1 L1863.2,39.2 L1866.2,39.3 L1869.2,39.3 L1872.2,39.4" stroke="#ff0000" stroke-width="13.0"/>
</g>
<rect x="352.8" y="70.4" width="701.2" height="533.0" fill="#ffffff" stroke="none"/>
<line x1="1056.3" y1="69.4" x2="1056.3" y2="607.6" stroke="#a4a4a4" stroke-width="3.0"/>
<line x1="351.40000000000003" y1="606.0" x2="1057.9" y2="606.0" stroke="#a4a4a4" stroke-width="3.0"/>
<line x1="351.40000000000003" y1="70.4" x2="1057.9" y2="70.4" stroke="#7a7a7a" stroke-width="4.6"/>
<line x1="352.8" y1="68.30000000000001" x2="352.8" y2="604.6" stroke="#181818" stroke-width="2.8"/>
<line x1="1053.8" y1="72.5" x2="1053.8" y2="604.6" stroke="#2c2c2c" stroke-width="2.0"/>
<line x1="351.40000000000003" y1="603.4" x2="1055.0" y2="603.4" stroke="#2c2c2c" stroke-width="2.2"/>
<text x="702" y="155.5" text-anchor="middle" font-weight="bold" font-size="69.3" fill="#000">tight contact</text>
<line x1="374" y1="216.9" x2="572.8" y2="216.9" stroke="#ff0000" stroke-width="13" stroke-linecap="round"/>
<text class="lg" x="591.5" y="239.5" fill="#ff0000">Mn</text>
<line x1="374" y1="299.5" x2="572.8" y2="299.5" stroke="#ff00ff" stroke-width="13" stroke-linecap="round"/>
<text class="lg" x="591.5" y="322.1" fill="#ff00ff">0.75Mn-0.25Ce</text>
<line x1="374" y1="382.1" x2="572.8" y2="382.1" stroke="#0000ff" stroke-width="13" stroke-linecap="round"/>
<text class="lg" x="591.5" y="404.7" fill="#0000ff">0.5Mn-0.5Ce</text>
<line x1="374" y1="464.7" x2="572.8" y2="464.7" stroke="#009632" stroke-width="13" stroke-linecap="round"/>
<text class="lg" x="591.5" y="487.3" fill="#009632">0.25Mn-0.75Ce</text>
<line x1="374" y1="547.3" x2="572.8" y2="547.3" stroke="#000000" stroke-width="13" stroke-linecap="round"/>
<text class="lg" x="591.5" y="569.9" fill="#000000">Ce</text>
<g fill="#000" stroke="none">
<rect x="265.4" y="1582.7" width="58.8" height="12.2" rx="4.6"/>
<rect x="291.7" y="1551.7" width="32.5" height="12.2" rx="4.6"/>
<rect x="291.7" y="1520.8" width="32.5" height="12.2" rx="4.6"/>
<rect x="291.7" y="1489.8" width="32.5" height="12.2" rx="4.6"/>
<rect x="291.7" y="1458.9" width="32.5" height="12.2" rx="4.6"/>
<rect x="265.4" y="1427.9" width="58.8" height="12.2" rx="4.6"/>
<rect x="291.7" y="1397.0" width="32.5" height="12.2" rx="4.6"/>
<rect x="291.7" y="1366.0" width="32.5" height="12.2" rx="4.6"/>
<rect x="291.7" y="1335.1" width="32.5" height="12.2" rx="4.6"/>
<rect x="291.7" y="1304.1" width="32.5" height="12.2" rx="4.6"/>
<rect x="265.4" y="1273.1" width="58.8" height="12.2" rx="4.6"/>
<rect x="291.7" y="1242.2" width="32.5" height="12.2" rx="4.6"/>
<rect x="291.7" y="1211.2" width="32.5" height="12.2" rx="4.6"/>
<rect x="291.7" y="1180.3" width="32.5" height="12.2" rx="4.6"/>
<rect x="291.7" y="1149.3" width="32.5" height="12.2" rx="4.6"/>
<rect x="265.4" y="1118.4" width="58.8" height="12.2" rx="4.6"/>
<rect x="291.7" y="1087.4" width="32.5" height="12.2" rx="4.6"/>
<rect x="291.7" y="1056.4" width="32.5" height="12.2" rx="4.6"/>
<rect x="291.7" y="1025.5" width="32.5" height="12.2" rx="4.6"/>
<rect x="291.7" y="994.5" width="32.5" height="12.2" rx="4.6"/>
<rect x="265.4" y="963.6" width="58.8" height="12.2" rx="4.6"/>
<rect x="291.7" y="932.6" width="32.5" height="12.2" rx="4.6"/>
<rect x="291.7" y="901.7" width="32.5" height="12.2" rx="4.6"/>
<rect x="291.7" y="870.7" width="32.5" height="12.2" rx="4.6"/>
<rect x="291.7" y="839.8" width="32.5" height="12.2" rx="4.6"/>
<rect x="265.4" y="808.8" width="58.8" height="12.2" rx="4.6"/>
<rect x="291.7" y="777.8" width="32.5" height="12.2" rx="4.6"/>
<rect x="291.7" y="746.9" width="32.5" height="12.2" rx="4.6"/>
<rect x="291.7" y="715.9" width="32.5" height="12.2" rx="4.6"/>
<rect x="291.7" y="685.0" width="32.5" height="12.2" rx="4.6"/>
<rect x="265.4" y="654.0" width="58.8" height="12.2" rx="4.6"/>
<rect x="291.7" y="623.1" width="32.5" height="12.2" rx="4.6"/>
<rect x="291.7" y="592.1" width="32.5" height="12.2" rx="4.6"/>
<rect x="291.7" y="561.2" width="32.5" height="12.2" rx="4.6"/>
<rect x="291.7" y="530.2" width="32.5" height="12.2" rx="4.6"/>
<rect x="265.4" y="499.2" width="58.8" height="12.2" rx="4.6"/>
<rect x="291.7" y="468.3" width="32.5" height="12.2" rx="4.6"/>
<rect x="291.7" y="437.3" width="32.5" height="12.2" rx="4.6"/>
<rect x="291.7" y="406.4" width="32.5" height="12.2" rx="4.6"/>
<rect x="291.7" y="375.4" width="32.5" height="12.2" rx="4.6"/>
<rect x="265.4" y="344.5" width="58.8" height="12.2" rx="4.6"/>
<rect x="291.7" y="313.5" width="32.5" height="12.2" rx="4.6"/>
<rect x="291.7" y="282.5" width="32.5" height="12.2" rx="4.6"/>
<rect x="291.7" y="251.6" width="32.5" height="12.2" rx="4.6"/>
<rect x="291.7" y="220.6" width="32.5" height="12.2" rx="4.6"/>
<rect x="265.4" y="189.7" width="58.8" height="12.2" rx="4.6"/>
<rect x="291.7" y="158.7" width="32.5" height="12.2" rx="4.6"/>
<rect x="291.7" y="127.8" width="32.5" height="12.2" rx="4.6"/>
<rect x="291.7" y="96.8" width="32.5" height="12.2" rx="4.6"/>
<rect x="291.7" y="65.9" width="32.5" height="12.2" rx="4.6"/>
<rect x="265.4" y="34.9" width="58.8" height="12.2" rx="4.6"/>
<rect x="318.1" y="1588.8" width="12.2" height="58.3" rx="4.6"/>
<rect x="369.7" y="1588.8" width="12.2" height="31.7" rx="4.6"/>
<rect x="421.3" y="1588.8" width="12.2" height="31.7" rx="4.6"/>
<rect x="472.9" y="1588.8" width="12.2" height="31.7" rx="4.6"/>
<rect x="524.5" y="1588.8" width="12.2" height="31.7" rx="4.6"/>
<rect x="576.1" y="1588.8" width="12.2" height="58.3" rx="4.6"/>
<rect x="627.7" y="1588.8" width="12.2" height="31.7" rx="4.6"/>
<rect x="679.3" y="1588.8" width="12.2" height="31.7" rx="4.6"/>
<rect x="730.9" y="1588.8" width="12.2" height="31.7" rx="4.6"/>
<rect x="782.5" y="1588.8" width="12.2" height="31.7" rx="4.6"/>
<rect x="834.1" y="1588.8" width="12.2" height="58.3" rx="4.6"/>
<rect x="885.7" y="1588.8" width="12.2" height="31.7" rx="4.6"/>
<rect x="937.3" y="1588.8" width="12.2" height="31.7" rx="4.6"/>
<rect x="988.9" y="1588.8" width="12.2" height="31.7" rx="4.6"/>
<rect x="1040.5" y="1588.8" width="12.2" height="31.7" rx="4.6"/>
<rect x="1092.2" y="1588.8" width="12.2" height="58.3" rx="4.6"/>
<rect x="1143.8" y="1588.8" width="12.2" height="31.7" rx="4.6"/>
<rect x="1195.4" y="1588.8" width="12.2" height="31.7" rx="4.6"/>
<rect x="1247.0" y="1588.8" width="12.2" height="31.7" rx="4.6"/>
<rect x="1298.6" y="1588.8" width="12.2" height="31.7" rx="4.6"/>
<rect x="1350.2" y="1588.8" width="12.2" height="58.3" rx="4.6"/>
<rect x="1401.8" y="1588.8" width="12.2" height="31.7" rx="4.6"/>
<rect x="1453.4" y="1588.8" width="12.2" height="31.7" rx="4.6"/>
<rect x="1505.0" y="1588.8" width="12.2" height="31.7" rx="4.6"/>
<rect x="1556.6" y="1588.8" width="12.2" height="31.7" rx="4.6"/>
<rect x="1608.2" y="1588.8" width="12.2" height="58.3" rx="4.6"/>
<rect x="1659.8" y="1588.8" width="12.2" height="31.7" rx="4.6"/>
<rect x="1711.4" y="1588.8" width="12.2" height="31.7" rx="4.6"/>
<rect x="1763.0" y="1588.8" width="12.2" height="31.7" rx="4.6"/>
<rect x="1814.6" y="1588.8" width="12.2" height="31.7" rx="4.6"/>
<rect x="1866.2" y="1588.8" width="12.2" height="58.3" rx="4.6"/>
</g>
<g stroke="#000" fill="none" stroke-linecap="round">
<line x1="324.2" y1="41.0" x2="1872.3" y2="41.0" stroke-width="12.1"/>
<line x1="324.2" y1="1588.8" x2="1872.3" y2="1588.8" stroke-width="12.1"/>
<line x1="324.2" y1="41.0" x2="324.2" y2="1588.8" stroke-width="11.7"/>
<line x1="1872.3" y1="41.0" x2="1872.3" y2="1588.8" stroke-width="11.7"/>
</g>
<text class="tl" transform="translate(243.6,1610.4) scale(0.985,1)" text-anchor="end">0</text>
<text class="tl" transform="translate(243.6,1300.8) scale(0.985,1)" text-anchor="end">20</text>
<text class="tl" transform="translate(243.6,991.3) scale(0.985,1)" text-anchor="end">40</text>
<text class="tl" transform="translate(243.6,681.7) scale(0.985,1)" text-anchor="end">60</text>
<text class="tl" transform="translate(243.6,372.2) scale(0.985,1)" text-anchor="end">80</text>
<text class="tl" transform="translate(243.6,62.6) scale(0.985,1)" text-anchor="end">100</text>
<text class="tl" transform="translate(322.4,1725) scale(0.985,1)" text-anchor="middle">250</text>
<text class="tl" transform="translate(838.4,1725) scale(0.985,1)" text-anchor="middle">350</text>
<text class="tl" transform="translate(1354.5,1725) scale(0.985,1)" text-anchor="middle">450</text>
<text class="tl" transform="translate(1870.5,1725) scale(0.985,1)" text-anchor="middle">550</text>
<text class="at" x="1096" y="1840" text-anchor="middle" style="letter-spacing:1.1px">Temperature, °C</text>
<text class="at" transform="translate(103.8,815.6) rotate(-90) scale(1,1.04)" text-anchor="middle" style="font-size:100.3px">Soot conversion, %</text>
</g>
</svg></body></html>
